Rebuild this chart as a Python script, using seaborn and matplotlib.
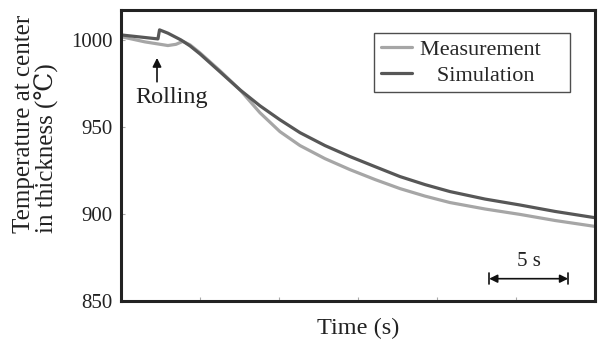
import matplotlib
matplotlib.use("Agg")
import matplotlib.pyplot as plt
import seaborn as sns
import pandas as pd

# Centre-of-thickness temperature history (time in s, temperature in °C)
meas_t = [0.0, 1.52, 2.97, 3.48, 3.92, 4.37, 5.00, 6.27, 7.53, 8.80, 10.06, 11.33,
          12.91, 14.49, 16.08, 17.66, 19.24, 20.82, 23.04, 25.25, 27.47, 30.0]
meas_v = [1001.7, 998.7, 996.6, 997.3, 999.0, 997.0, 992.4, 982.1, 971.2, 958.0, 947.2, 939.2,
          931.7, 925.4, 919.7, 914.5, 910.2, 906.5, 902.8, 899.7, 896.2, 892.8]

sim_t = [0.0, 2.34, 2.44, 2.97, 3.80, 4.37, 5.00, 6.27, 7.53, 8.80, 10.06, 11.33,
         12.91, 14.49, 16.08, 17.66, 19.24, 20.82, 23.04, 25.25, 27.47, 30.0]
sim_v = [1002.7, 1000.4, 1005.6, 1003.7, 999.8, 996.4, 991.8, 981.5, 971.2, 962.0, 954.0, 946.6,
         939.2, 932.9, 927.1, 921.4, 916.8, 912.8, 908.5, 905.1, 901.4, 897.8]

y_ticks = [850, 900, 950, 1000]
x_ticks = [5, 10, 15, 20, 25]

df = pd.concat([
    pd.DataFrame({"time": meas_t, "temp": meas_v, "series": "Measurement    "}),
    pd.DataFrame({"time": sim_t, "temp": sim_v, "series": "   Simulation"}),
])

sns.set_theme(style="white")
plt.rcParams["font.family"] = ["Liberation Serif", "DejaVu Serif"]

INK = "#222222"

fig = plt.figure(figsize=(5.98, 3.40), dpi=100)
ax = fig.add_axes([0.2023, 0.1147, 0.7927, 0.8559])

sns.lineplot(data=df, x="time", y="temp", hue="series",
             palette={"Measurement    ": "#a6a6a6", "   Simulation": "#575757"},
             linewidth=2.3, ax=ax, sort=False, estimator=None)

ax.set_xlim(0, 30)
ax.set_ylim(850, 1017)
ax.set_yticks(y_ticks)
ax.set_yticklabels([str(v) for v in y_ticks], fontsize=15, color=INK)
ax.set_xticks(x_ticks)
ax.set_xticklabels([])
ax.tick_params(axis="both", direction="in", length=3, width=0.8,
               color="#aaaaaa", pad=6)
ax.tick_params(axis="x", bottom=True)
ax.tick_params(axis="y", left=True)

for s in ax.spines.values():
    s.set_visible(True)
    s.set_color(INK)
    s.set_linewidth(2.2)

ax.set_xlabel("Time (s)", fontsize=17.5, color=INK, labelpad=6)
ax.set_ylabel("")
fig.text(36 / 598, 1 - 233 / 340, "Temperature at center\nin thickness (℃)",
         rotation=90, ha="center", va="bottom", multialignment="left",
         fontsize=18, color=INK, linespacing=1.0)

leg = ax.legend(loc="upper right", bbox_to_anchor=(0.947, 0.921), fontsize=16,
                frameon=True, fancybox=False, edgecolor=INK,
                handlelength=1.4, handletextpad=0.35, borderpad=0.3,
                labelspacing=0.22, borderaxespad=0.0)
leg.get_frame().set_linewidth(1.0)
for line in leg.get_lines():
    line.set_linewidth(2.3)

# Rolling marker
ax.annotate("", xy=(2.28, 989.5), xytext=(2.28, 975.8),
            arrowprops=dict(arrowstyle="-|>", color="#111111", lw=1.2,
                            mutation_scale=13, shrinkA=0, shrinkB=0))
ax.text(3.2, 966.5, "Rolling", ha="center", va="center", fontsize=17.5, color=INK)

# 5 s scale bar
bar_x0, bar_x1, bar_y = 23.3, 28.3, 862.8
ax.annotate("", xy=(bar_x0, bar_y), xytext=(bar_x1, bar_y),
            arrowprops=dict(arrowstyle="<|-|>", color="#111111", lw=1.2,
                            mutation_scale=12, shrinkA=0, shrinkB=0))
ax.plot([bar_x0, bar_x0], [859.6, 866.0], color="#111111", lw=1.2)
ax.plot([bar_x1, bar_x1], [859.6, 866.0], color="#111111", lw=1.2)
ax.text((bar_x0 + bar_x1) / 2, 872.5, "5 s", ha="center", va="center",
        fontsize=15, color=INK)

fig.savefig("out.png", dpi=100)
